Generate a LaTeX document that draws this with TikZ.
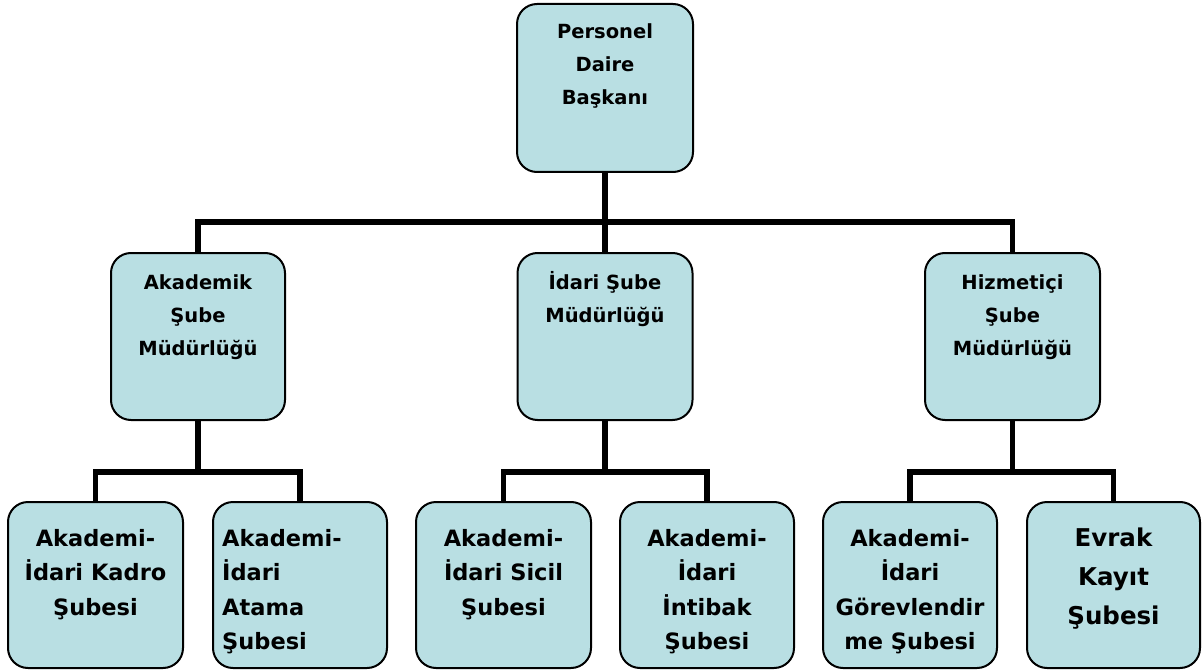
\documentclass[tikz,border=0pt]{standalone}
\usepackage{fontspec}
\setmainfont{DejaVu Sans}
\definecolor{boxfill}{RGB}{185,223,227}
\tikzset{
  orgbox/.style={draw=black, line width=2pt, fill=boxfill, rounded corners=20pt,
    minimum width=#1, inner sep=0pt},
  conn/.style={draw=black, line width=5.5pt},
  toptext/.style={anchor=north, inner sep=0pt, align=center, font=\bfseries\fontsize{19.5}{33}\selectfont},
  bottext/.style={anchor=north, inner sep=0pt, align=center, font=\bfseries\fontsize{22.5}{34.5}\selectfont},
  evrtext/.style={anchor=north, inner sep=0pt, align=center, font=\bfseries\fontsize{24.5}{39}\selectfont},
}
\begin{document}
\begin{tikzpicture}[x=1pt,y=-1pt]
\useasboundingbox (0,0) rectangle (1202,671);
% boxes
\node[orgbox=176pt, minimum height=168pt] (top) at (605,88) {};
\node[orgbox=174pt, minimum height=167pt] (akad) at (198,336.5) {};
\node[orgbox=175pt, minimum height=167pt] (idari) at (605,336.5) {};
\node[orgbox=175pt, minimum height=167pt] (hiz) at (1012.5,336.5) {};
\node[orgbox=175pt, minimum height=166pt] (b1) at (95.5,585) {};
\node[orgbox=174pt, minimum height=166pt] (b2) at (300,585) {};
\node[orgbox=175pt, minimum height=166pt] (b3) at (503.5,585) {};
\node[orgbox=174pt, minimum height=166pt] (b4) at (707,585) {};
\node[orgbox=174pt, minimum height=166pt] (b5) at (910,585) {};
\node[orgbox=173pt, minimum height=166pt] (b6) at (1113.5,585) {};
% connectors
\coordinate (j0) at (605,222);
\coordinate (j1) at (198,472);
\coordinate (j2) at (605,472);
\coordinate (j3) at (1012.5,472);
\draw[conn] (top.south) -- (j0);
\draw[conn] (akad.north) |- (j0) -| (hiz.north);
\draw[conn] (j0) -- (idari.north);
\draw[conn] (akad.south) -- (j1);
\draw[conn] (b1.north) |- (j1) -| (b2.north);
\draw[conn] (idari.south) -- (j2);
\draw[conn] (b3.north) |- (j2) -| (b4.north);
\draw[conn] (hiz.south) -- (j3);
\draw[conn] (b5.north) |- (j3) -| (b6.north);
% texts
\node[toptext] (ttop) at (top.north) {\rule{0pt}{35pt}Personel\\Daire\\Başkanı};
\node[toptext] (takad) at (akad.north) {\rule{0pt}{37pt}Akademik\\Şube\\Müdürlüğü};
\node[toptext] (tidari) at (idari.north) {\rule{0pt}{37pt}İdari Şube\\Müdürlüğü};
\node[toptext] (thiz) at (hiz.north) {\rule{0pt}{37pt}Hizmetiçi\\Şube\\Müdürlüğü};
\node[bottext] (tb1) at (b1.north) {\rule{0pt}{45pt}Akademi-\\İdari Kadro\\Şubesi};
\node[bottext, align=left, anchor=north west] (tb2) at ([xshift=10pt]b2.north west) {\rule{0pt}{45pt}Akademi-\\İdari\\Atama\\Şubesi};
\node[bottext] (tb3) at (b3.north) {\rule{0pt}{45pt}Akademi-\\İdari Sicil\\Şubesi};
\node[bottext] (tb4) at (b4.north) {\rule{0pt}{45pt}Akademi-\\İdari\\İntibak\\Şubesi};
\node[bottext] (tb5) at (b5.north) {\rule{0pt}{45pt}Akademi-\\İdari\\Görevlendir\\me Şubesi};
\node[evrtext] (tb6) at (b6.north) {\rule{0pt}{45pt}Evrak\\Kayıt\\Şubesi};
\end{tikzpicture}
\end{document}
